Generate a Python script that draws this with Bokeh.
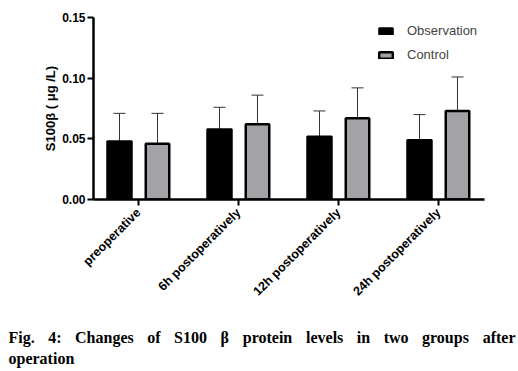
from bokeh.plotting import figure
from bokeh.layouts import column, row
from bokeh.models import (FixedTicker, Whisker, TeeHead, ColumnDataSource, Legend,
                          LegendItem, Range1d)
from bokeh.core.properties import value
from bokeh.embed import file_html
from bokeh.resources import INLINE
import math

categories = ["preoperative", "6h postoperatively", "12h postoperatively", "24h postoperatively"]
obs_mean = [0.048, 0.058, 0.052, 0.049]
obs_sd = [0.023, 0.018, 0.021, 0.021]
ctrl_mean = [0.046, 0.062, 0.067, 0.073]
ctrl_sd = [0.025, 0.024, 0.025, 0.028]
y_ticks = [0.0, 0.05, 0.10, 0.15]
y_tick_labels = ["0.00", "0.05", "0.10", "0.15"]
caption_line1 = "Fig. 4: Changes of S100 β protein levels in two groups after"
caption_line2 = "operation"

idx = list(range(len(categories)))
off = 0.19
obs_x = [i - off for i in idx]
ctrl_x = [i + off for i in idx]

src_obs = ColumnDataSource(dict(x=obs_x, top=obs_mean,
                                up=[m + s for m, s in zip(obs_mean, obs_sd)]))
src_ctrl = ColumnDataSource(dict(x=ctrl_x, top=ctrl_mean,
                                 up=[m + s for m, s in zip(ctrl_mean, ctrl_sd)]))

W = 518
H1 = 316
H2 = 52
p = figure(width=W, height=H1, output_backend="svg", toolbar_location=None,
           x_range=Range1d(-0.45, 3.46), y_range=Range1d(0, 0.15),
           min_border_left=93, min_border_right=W - 484, min_border_top=17,
           min_border_bottom=H1 - 199)
p.outline_line_color = None
p.grid.visible = False
p.background_fill_color = "white"

for src in (src_obs, src_ctrl):
    w = Whisker(source=src, base="x", lower="top", upper="up", dimension="height",
                line_color="#333333", line_width=1,
                lower_head=None, upper_head=TeeHead(size=12, line_color="#333333", line_width=1))
    p.add_layout(w)

r_obs = p.vbar(x="x", top="top", width=0.245, bottom=0, source=src_obs,
               fill_color="black", line_color="black", line_width=2)
r_ctrl = p.vbar(x="x", top="top", width=0.235, bottom=0, source=src_ctrl,
                fill_color="#a3a3a7", line_color="black", line_width=2.5)

# axes
p.yaxis.ticker = FixedTicker(ticks=y_ticks)
p.yaxis.major_label_overrides = {t: l for t, l in zip(y_ticks, y_tick_labels)}
p.yaxis.minor_tick_line_color = None
p.yaxis.axis_line_width = 2.5
p.yaxis.major_tick_line_width = 2
p.yaxis.major_tick_out = 6
p.yaxis.major_tick_in = 0
p.yaxis.major_label_standoff = 2
p.yaxis.major_label_text_font = "Liberation Sans"
p.yaxis.major_label_text_font_style = "bold"
p.yaxis.major_label_text_font_size = "12px"
p.yaxis.major_label_text_color = "black"
p.yaxis.axis_label = "S100β ( μg /L)"
p.yaxis.axis_label_text_font = "Liberation Sans"
p.yaxis.axis_label_text_font_style = "bold"
p.yaxis.axis_label_text_font_size = "13px"
p.yaxis.axis_label_text_color = "black"
p.yaxis.axis_label_standoff = 1

p.xaxis.ticker = FixedTicker(ticks=idx)
p.xaxis.major_label_overrides = {i: c for i, c in zip(idx, categories)}
p.xaxis.minor_tick_line_color = None
p.xaxis.axis_line_width = 2.5
p.xaxis.major_tick_line_width = 2
p.xaxis.major_tick_out = 6
p.xaxis.major_tick_in = 0
p.xaxis.major_label_orientation = math.pi / 4
p.xaxis.major_label_text_font = "Liberation Sans"
p.xaxis.major_label_text_font_style = "bold"
p.xaxis.major_label_text_font_size = "12.5px"
p.xaxis.major_label_text_color = "black"

legend = Legend(items=[LegendItem(label="Observation", renderers=[r_obs]),
                       LegendItem(label="Control", renderers=[r_ctrl])],
                location=(284, 137), orientation="vertical",
                glyph_width=17, glyph_height=8, label_text_font="Liberation Sans",
                label_text_font_size="13px", spacing=9, padding=0, margin=0,
                border_line_color=None, background_fill_alpha=0, label_standoff=13)
p.add_layout(legend, "center")

# ---- caption (justified first line, bold serif) ----
FS = 16
bold_times = {"F": 611, "i": 278, "g": 500, ".": 250, "4": 500, ":": 333, "C": 722,
              "h": 556, "a": 500, "n": 556, "e": 444, "s": 389, "o": 500, "f": 333,
              "S": 556, "1": 500, "0": 500, "β": 556, "p": 556, "r": 444, "t": 333,
              "l": 278, "v": 500, "w": 722, "u": 556}
words = caption_line1.split(" ")
wwidth = [sum(bold_times.get(ch, 500) for ch in wd) / 1000 * FS for wd in words]
x_left, x_right = 8, 515
gap = (x_right - x_left - sum(wwidth)) / (len(words) - 1)
wx = []
cur = x_left
for ww in wwidth:
    wx.append(cur)
    cur += ww + gap

cap = figure(width=W, height=H2, output_backend="svg", toolbar_location=None,
             x_range=Range1d(0, W), y_range=Range1d(0, H2),
             x_axis_location=None, y_axis_location=None,
             min_border=0, min_border_left=0, min_border_right=0,
             min_border_top=0, min_border_bottom=0)
cap.grid.visible = False
cap.outline_line_color = None
cap.text(x=wx, y=[H2 - 21] * len(words), text=words,
         text_font=value("Liberation Serif"), text_font_style="bold",
         text_font_size=f"{FS}px", text_baseline="middle", text_color="black")
cap.text(x=[x_left], y=[H2 - 42], text=[caption_line2],
         text_font=value("Liberation Serif"), text_font_style="bold",
         text_font_size=f"{FS}px", text_baseline="middle", text_color="black")

layout = column(p, row(cap), spacing=0)
open("out.html", "w").write(file_html(layout, INLINE))
